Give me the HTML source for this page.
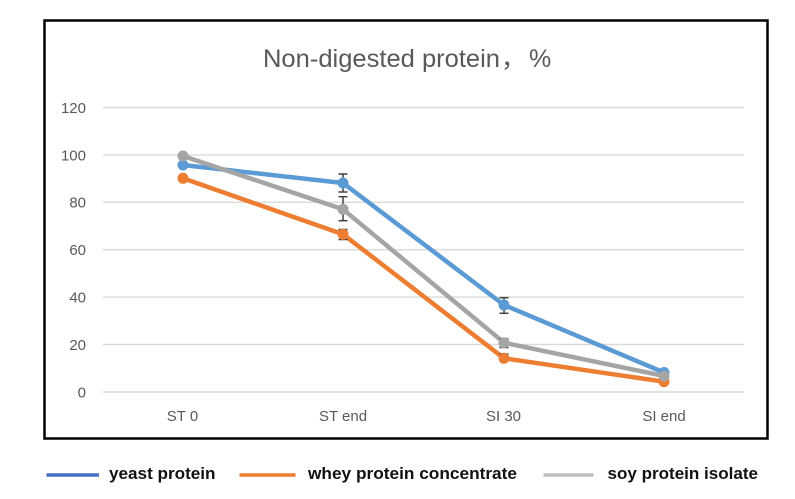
<!DOCTYPE html>
<html>
<head>
<meta charset="utf-8">
<style>
html,body{margin:0;padding:0;background:#fff;}
svg{display:block;}
</style>
</head>
<body>
<svg width="795" height="499" viewBox="0 0 795 499" xmlns="http://www.w3.org/2000/svg">
<rect x="0" y="0" width="795" height="499" fill="#fff"/>
<!-- chart border -->
<rect x="44.5" y="20.5" width="723" height="418" fill="#fff" stroke="#000" stroke-width="2.5"/>

<!-- title -->
<g font-family="Liberation Sans, sans-serif" font-size="25" fill="#595959">
<text x="263" y="67" textLength="237" lengthAdjust="spacingAndGlyphs">Non-digested protein</text>
<text x="501" y="67" font-family="Liberation Sans, Noto Sans CJK SC, sans-serif">，</text>
<text x="529" y="67">%</text>
</g>

<!-- gridlines -->
<g stroke="#D9D9D9" stroke-width="1.4">
<line x1="103" y1="107.5" x2="744" y2="107.5"/>
<line x1="103" y1="154.9" x2="744" y2="154.9"/>
<line x1="103" y1="202.3" x2="744" y2="202.3"/>
<line x1="103" y1="249.7" x2="744" y2="249.7"/>
<line x1="103" y1="297.1" x2="744" y2="297.1"/>
<line x1="103" y1="344.5" x2="744" y2="344.5"/>
<line x1="103" y1="392" x2="744" y2="392"/>
</g>

<!-- y tick labels -->
<g font-family="Liberation Sans, sans-serif" font-size="15" fill="#595959" text-anchor="end">
<text x="86" y="113">120</text>
<text x="86" y="160.3">100</text>
<text x="86" y="207.7">80</text>
<text x="86" y="255.1">60</text>
<text x="86" y="302.5">40</text>
<text x="86" y="349.9">20</text>
<text x="86" y="397.4">0</text>
</g>

<!-- x category labels -->
<g font-family="Liberation Sans, sans-serif" font-size="15" fill="#595959" text-anchor="middle">
<text x="182.5" y="421">ST 0</text>
<text x="343" y="421">ST end</text>
<text x="503.5" y="421">SI 30</text>
<text x="664" y="421">SI end</text>
</g>

<!-- yeast protein -->
<polyline points="183,165 343,183 504,305 664,372.5" fill="none" stroke="#5B9BD5" stroke-width="4.5" stroke-linejoin="round"/>
<g stroke="#404040" stroke-width="1.5">
<line x1="343" y1="174" x2="343" y2="192"/><line x1="338.5" y1="174" x2="347.5" y2="174"/><line x1="338.5" y1="192" x2="347.5" y2="192"/>
<line x1="504" y1="297.7" x2="504" y2="313.3"/><line x1="499.5" y1="297.7" x2="508.5" y2="297.7"/><line x1="499.5" y1="313.3" x2="508.5" y2="313.3"/>
</g>
<g fill="#5B9BD5">
<circle cx="183" cy="165" r="5.5"/><circle cx="343" cy="183" r="5.5"/><circle cx="504" cy="305" r="5.5"/><circle cx="664" cy="372.5" r="5.5"/>
</g>

<!-- whey protein concentrate -->
<polyline points="183,178.3 343,234.3 504,358.3 664,381.7" fill="none" stroke="#ED7D31" stroke-width="4.5" stroke-linejoin="round"/>
<g stroke="#404040" stroke-width="1.5">
<line x1="343" y1="229.5" x2="343" y2="239.5"/><line x1="338.5" y1="229.5" x2="347.5" y2="229.5"/><line x1="338.5" y1="239.5" x2="347.5" y2="239.5"/>
<line x1="504" y1="354" x2="504" y2="362.6"/><line x1="499.5" y1="354" x2="508.5" y2="354"/>
</g>
<g fill="#ED7D31">
<circle cx="183" cy="178.3" r="5.5"/><circle cx="343" cy="234.3" r="5.5"/><circle cx="504" cy="358.3" r="5.5"/><circle cx="664" cy="381.7" r="5.5"/>
</g>

<!-- soy protein isolate -->
<polyline points="183,156 343,209.3 504,342.7 664,376" fill="none" stroke="#A5A5A5" stroke-width="4.5" stroke-linejoin="round"/>
<g stroke="#404040" stroke-width="1.5">
<line x1="343" y1="196.7" x2="343" y2="220.7"/><line x1="338.5" y1="196.7" x2="347.5" y2="196.7"/><line x1="338.5" y1="220.7" x2="347.5" y2="220.7"/>
<line x1="504" y1="338.7" x2="504" y2="347.5"/><line x1="499.5" y1="338.7" x2="508.5" y2="338.7"/><line x1="499.5" y1="347.5" x2="508.5" y2="347.5"/>
</g>
<g fill="#A5A5A5">
<circle cx="183" cy="156" r="5.5"/><circle cx="343" cy="209.3" r="5.5"/><circle cx="504" cy="342.7" r="5.5"/><circle cx="664" cy="376" r="5.5"/>
</g>

<!-- legend -->
<line x1="46.5" y1="475" x2="99" y2="475" stroke="#4472C4" stroke-width="3.5"/>
<line x1="239.5" y1="475" x2="295.5" y2="475" stroke="#ED7D31" stroke-width="3.5"/>
<line x1="543.5" y1="475" x2="593.5" y2="475" stroke="#BFBFBF" stroke-width="3.5"/>
<g font-family="Liberation Sans, sans-serif" font-size="17" font-weight="bold" fill="#111">
<text x="109" y="479" textLength="106.5" lengthAdjust="spacingAndGlyphs">yeast protein</text>
<text x="308" y="479" textLength="209" lengthAdjust="spacingAndGlyphs">whey protein concentrate</text>
<text x="607.5" y="479" textLength="150.5" lengthAdjust="spacingAndGlyphs">soy protein isolate</text>
</g>
</svg>
</body>
</html>
